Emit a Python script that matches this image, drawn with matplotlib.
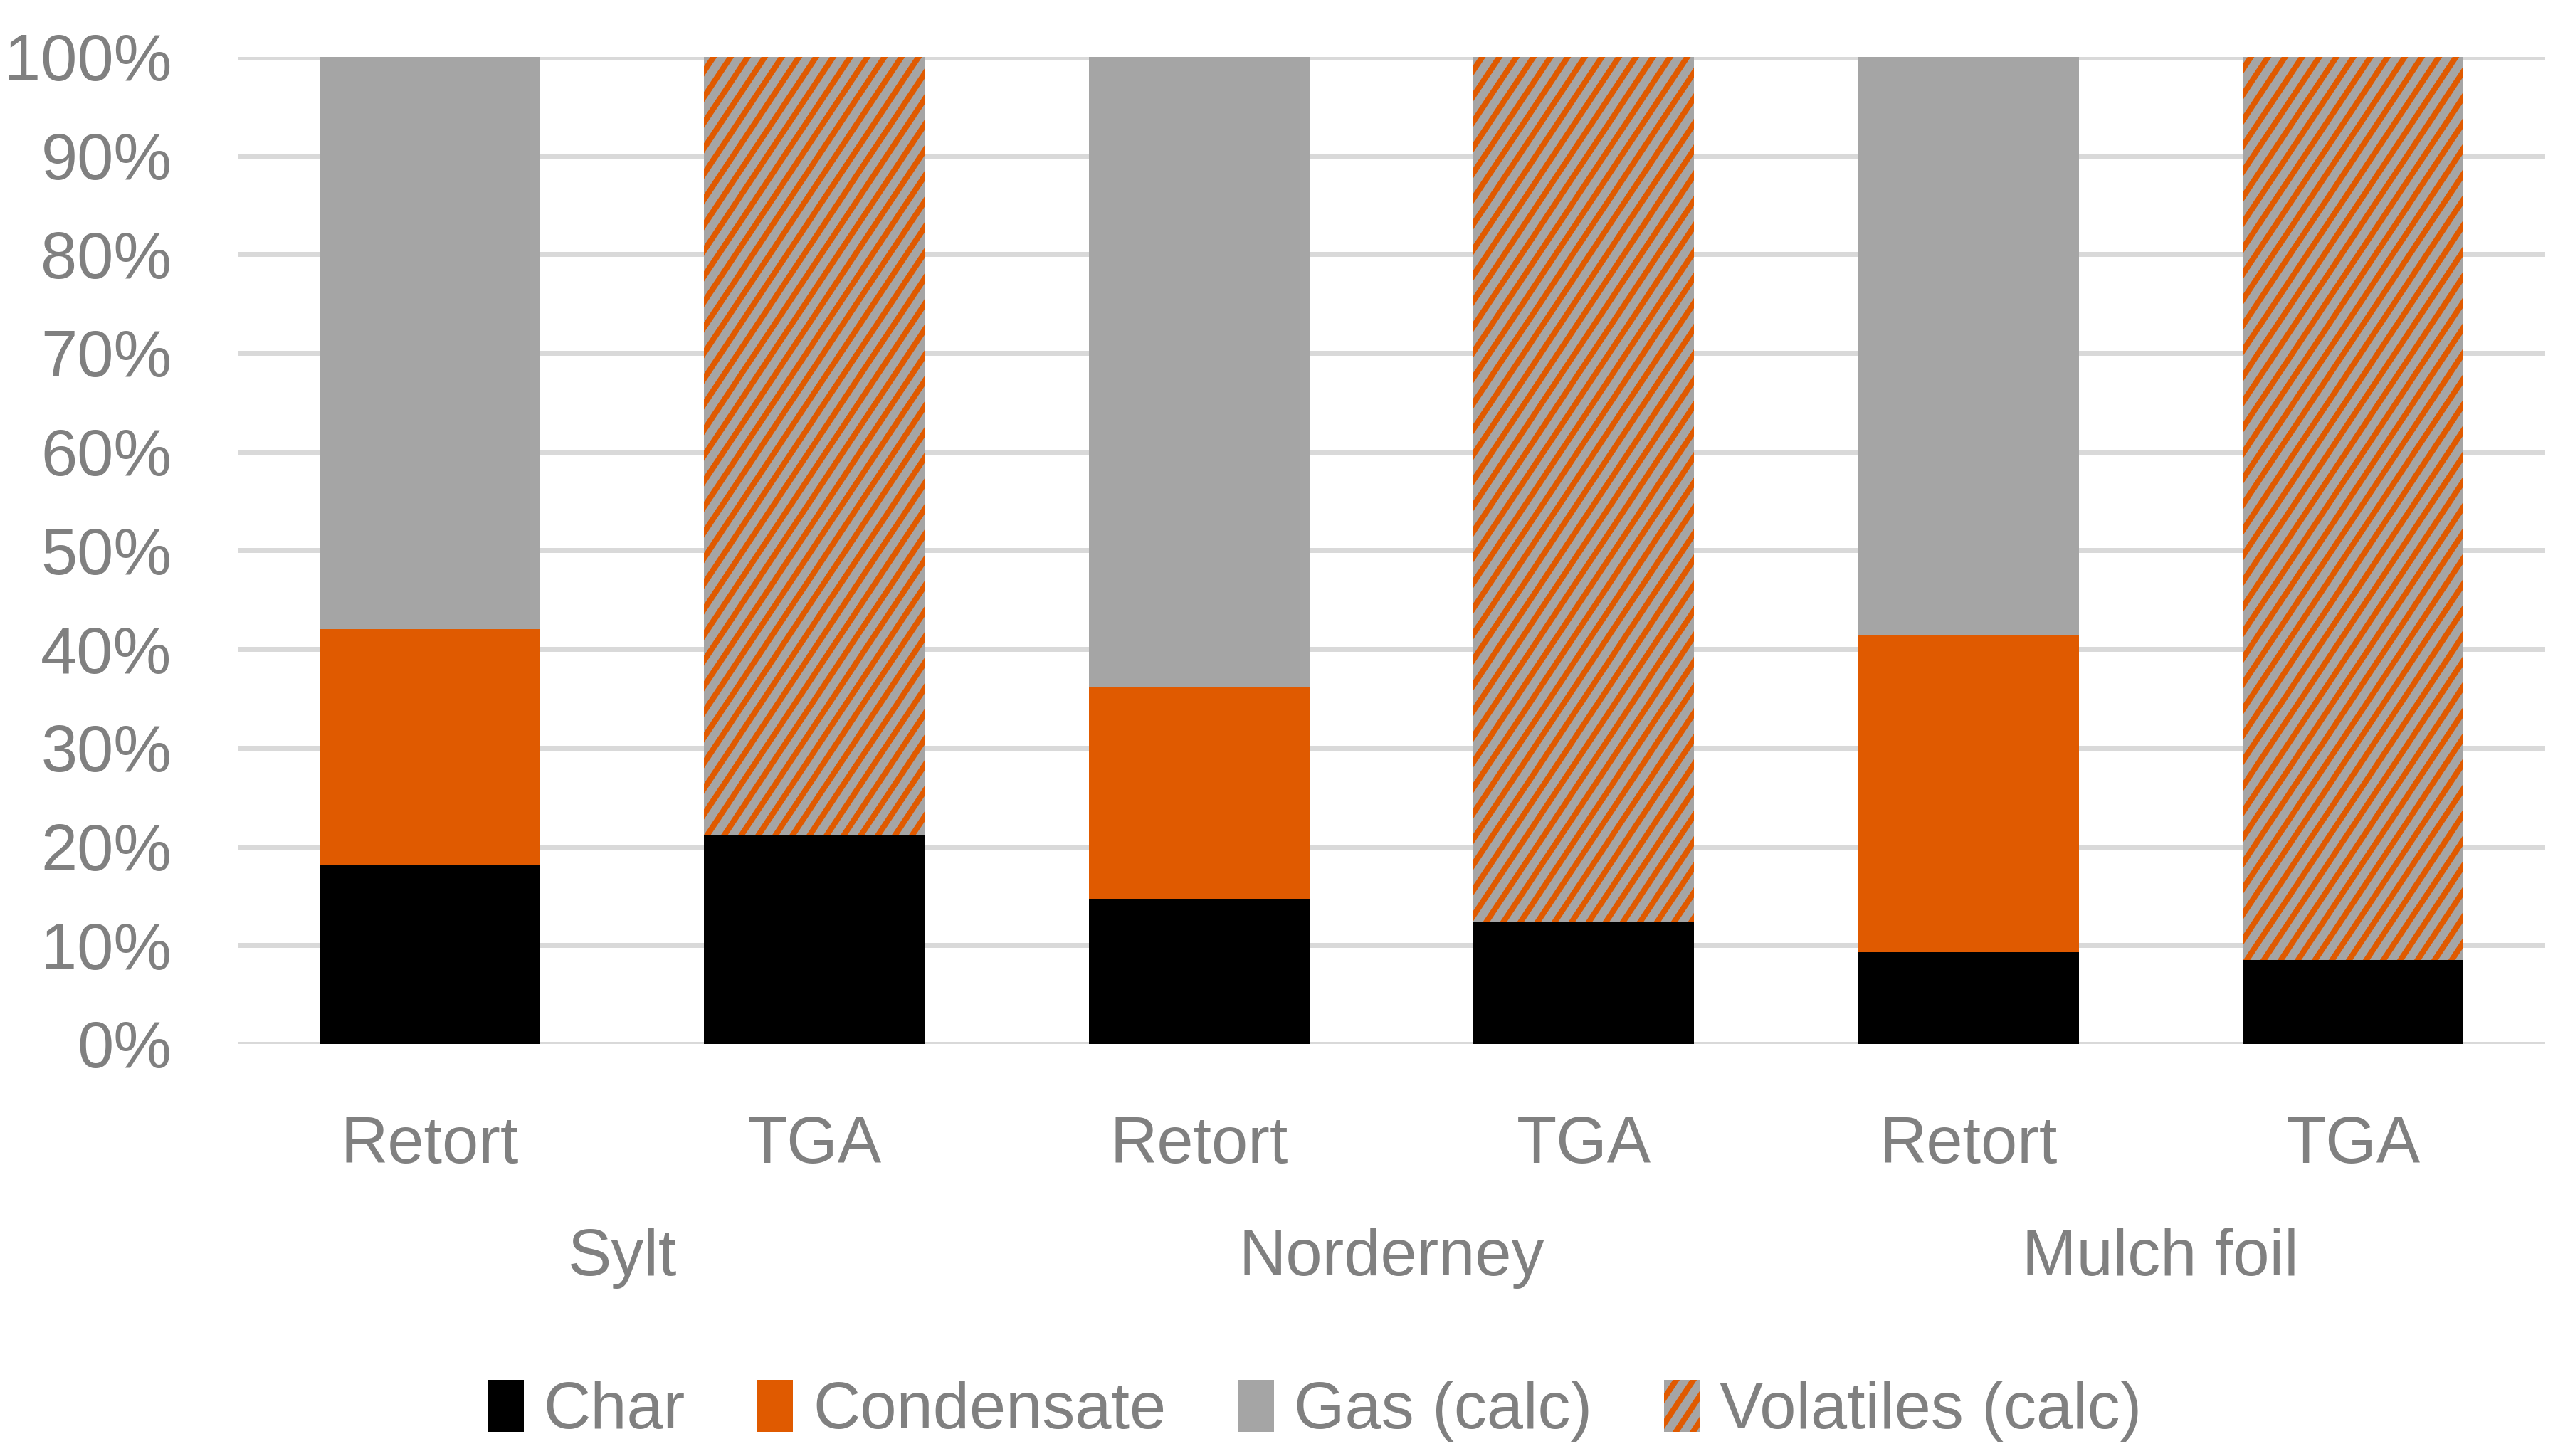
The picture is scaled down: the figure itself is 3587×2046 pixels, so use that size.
import matplotlib

matplotlib.use("Agg")
import matplotlib.pyplot as plt
import matplotlib.hatch as mhatch
from matplotlib.path import Path
import numpy as np

groups = ["Sylt", "Norderney", "Mulch foil"]
methods = ["Retort", "TGA", "Retort", "TGA", "Retort", "TGA"]
char = [18.2, 21.1, 14.7, 12.4, 9.3, 8.5]
condensate = [23.8, 0.0, 21.5, 0.0, 32.1, 0.0]
gas = [58.0, 0.0, 63.8, 0.0, 58.6, 0.0]
volatiles = [0.0, 78.9, 0.0, 87.6, 0.0, 91.5]
y_ticks = [0, 10, 20, 30, 40, 50, 60, 70, 80, 90, 100]

BLACK = "#000000"
ORANGE = "#E05A00"
GREY = "#A5A5A5"
TEXT = "#808080"
FS = 46


class SteepHatch(mhatch.HatchPatternBase):
    """'/' hatch but steeper (slope 1.5), like the stretched Excel pattern."""

    def __init__(self, hatch, density):
        self.n = int(hatch.count("/") * density)
        if self.n:
            self.offsets = np.arange(-2 * self.n // 3, self.n + 1) / self.n
            self.num_vertices = len(self.offsets) * 2
        else:
            self.num_vertices = 0

    def set_vertices_and_codes(self, vertices, codes):
        vertices[0::2, 0] = self.offsets
        vertices[0::2, 1] = 0.0
        vertices[1::2, 0] = self.offsets + 2.0 / 3.0
        vertices[1::2, 1] = 1.0
        codes[0::2] = Path.MOVETO
        codes[1::2] = Path.LINETO


mhatch._hatch_types = [SteepHatch if h is mhatch.NorthEastHatch else h
                       for h in mhatch._hatch_types]

plt.rcParams["font.family"] = ["Liberation Sans", "DejaVu Sans"]
plt.rcParams["hatch.linewidth"] = 4.0

DPI = 144
fig = plt.figure(figsize=(3587 / DPI, 2046 / DPI), dpi=DPI)
ax = fig.add_axes([0.093, 0.283, 0.904, 0.678])

x = np.arange(len(methods))
w = 0.574
bottom = np.zeros(len(methods))
ax.bar(x, char, w, bottom=bottom, color=BLACK, label="Char", zorder=3)
bottom += char
ax.bar(x, condensate, w, bottom=bottom, color=ORANGE, label="Condensate", zorder=3)
bottom += condensate
ax.bar(x, gas, w, bottom=bottom, color=GREY, label="Gas (calc)", zorder=3)
ax.bar(x, volatiles, w, bottom=bottom, facecolor=GREY, edgecolor=ORANGE,
       linewidth=0, hatch="/", label="Volatiles (calc)", zorder=3)

ax.set_xlim(-0.5, len(methods) - 0.5)
ax.set_ylim(0, 100)
ax.set_yticks(y_ticks)
ax.set_yticklabels([f"{t}%" for t in y_ticks])
ax.set_xticks(x)
ax.set_xticklabels(methods)
ax.tick_params(axis="both", length=0, labelsize=FS, colors=TEXT)
ax.tick_params(axis="y", pad=46)
ax.tick_params(axis="x", pad=50)
ax.yaxis.grid(True, color="#D9D9D9", linewidth=3.5, zorder=0)
ax.set_axisbelow(True)
for s in ax.spines.values():
    s.set_visible(False)

trans = ax.get_xaxis_transform()
for i, g in enumerate(groups):
    ax.text(2 * i + 0.5, -0.217, g, transform=trans, ha="center", va="center",
            fontsize=FS, color=TEXT)

leg = fig.legend(loc="center", bbox_to_anchor=(0.515, 0.031), ncol=4, frameon=False,
                 fontsize=FS, handlelength=0.55, handleheight=0.85,
                 handletextpad=0.3, columnspacing=1.1)
for t in leg.get_texts():
    t.set_color(TEXT)

fig.savefig("out.png", dpi=DPI)
